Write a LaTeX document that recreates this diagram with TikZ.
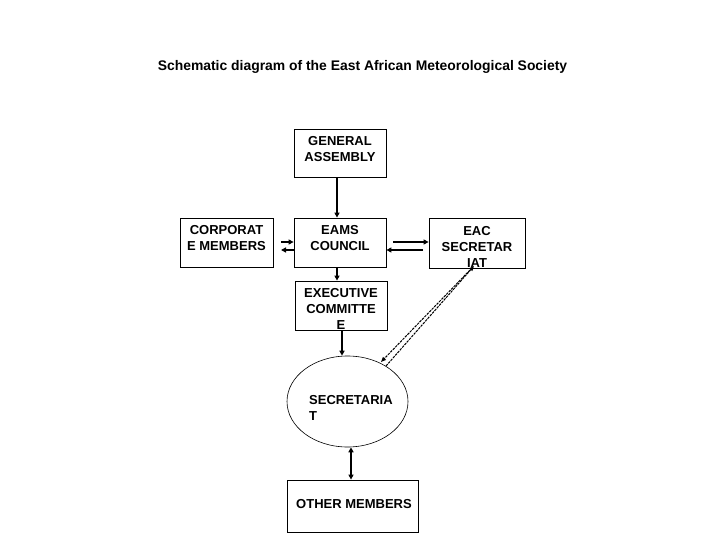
\documentclass[tikz,border=0pt]{standalone}
\usepackage{fontspec}
\setmainfont{Liberation Sans}
\usetikzlibrary{arrows.meta,shapes.geometric}
\begin{document}
\begin{tikzpicture}[x=1pt,y=-1pt,
  box/.style={draw,line width=0.8pt,inner sep=0pt},
  lbl/.style={font=\bfseries\fontsize{13}{16}\selectfont,align=center,inner sep=0pt},
  arr/.style={-{Triangle[length=5pt,width=5pt]},line width=1.3pt},
  darr/.style={{Triangle[length=5pt,width=5pt]}-{Triangle[length=5pt,width=5pt]},line width=1.3pt},
  dsh/.style={-{Triangle[length=5pt,width=4pt]},line width=1pt,dash pattern=on 2.5pt off 1pt}]
\useasboundingbox (0,0) rectangle (720,540);
\node[font=\bfseries\fontsize{13.9}{15}\selectfont] (title) at (362.5,67) {Schematic diagram of the East African Meteorological Society};
% boxes
\node[box,minimum width=92pt,minimum height=48pt] (ga) at (340,153) {};
\node[lbl] (gat) at (340,149) {GENERAL\\ASSEMBLY};
\node[box,minimum width=92pt,minimum height=49pt] (ec) at (340,242.5) {};
\node[lbl] (ect) at (340,238) {EAMS\\COUNCIL};
\node[box,minimum width=93pt,minimum height=49pt] (cm) at (226.5,242.5) {};
\node[lbl] (cmt) at (226.5,238) {CORPORAT\\E MEMBERS};
\node[box,minimum width=96pt,minimum height=50pt] (eac) at (477,243) {};
\node[lbl] (eact) at (477,247) {EAC\\SECRETAR\\IAT};
\node[box,minimum width=92pt,minimum height=49pt] (ex) at (341,305.5) {};
\node[lbl] (ext) at (341,309) {EXECUTIVE\\COMMITTE\\E};
\node[draw,ellipse,line width=0.6pt,minimum width=121pt,minimum height=91pt,inner sep=0pt] (sec) at (347.5,401.5) {};
\node[lbl,align=left,anchor=west] (sect) at (309,408) {SECRETARIA\\T};
\node[box,minimum width=131pt,minimum height=52pt] (om) at (352.5,506) {};
\node[lbl] (omt) at (354,504) {OTHER MEMBERS};
% connectors
\draw[arr] (ga.south -| 337,0) -- (ec.north -| 337,0);
\draw[arr] (ec.south -| 337,0) -- (ex.north -| 337,0);
\draw[arr] (ex.south -| 342,0) -- (sec.north -| 342,0);
\coordinate (c1) at (281,242);
\coordinate (c2) at (281,250);
\draw[arr] (c1) -- (ec.west |- c1);
\draw[arr] (ec.west |- c2) -- (c2);
\coordinate (e1) at (393,242);
\coordinate (e2) at (423,250);
\draw[arr] (e1) -- (eac.west |- e1);
\draw[arr] (e2) -- (ec.east |- e2);
\draw[darr] (sec.south -| 351,0) -- (om.north -| 351,0);
\coordinate (d1a) at (470,270);
\coordinate (d1b) at (381,362);
\coordinate (d2a) at (386,366);
\coordinate (d2b) at (474,266);
\draw[dsh] (d1a) -- (d1b);
\draw[dsh] (d2a) -- (d2b);
\end{tikzpicture}
\end{document}
